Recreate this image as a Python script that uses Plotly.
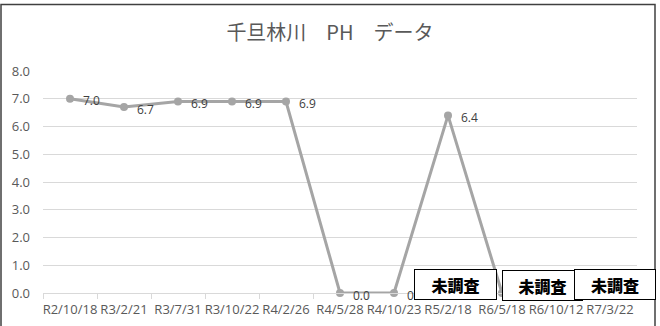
import plotly.graph_objects as go

categories = ["R2/10/18", "R3/2/21", "R3/7/31", "R3/10/22", "R4/2/26", "R4/5/28",
              "R4/10/23", "R5/2/18", "R6/5/18", "R6/10/12", "R7/3/22"]
ph_values = [7.0, 6.7, 6.9, 6.9, 6.9, 0.0, 0.0, 6.4, 0.0, None, None]
title_text = "千旦林川　PH　データ"
note_text = "未調査"
y_ticks = [0, 1, 2, 3, 4, 5, 6, 7, 8]

W, H = 660, 326
L, R, T, B = 43, 23, 71, 33
pw, ph = W - L - R, H - T - B

def px(x):
    return (x - L) / pw

def py(y):
    return (H - B - y) / ph

FONT = "Open Sans, Liberation Sans, sans-serif"

fig = go.Figure()
fig.add_trace(go.Scatter(
    x=categories, y=ph_values, mode="lines+markers",
    line=dict(color="#A5A5A5", width=3),
    marker=dict(color="#A5A5A5", size=8),
    cliponaxis=False, connectgaps=False, showlegend=False,
))

fig.update_layout(
    width=W, height=H,
    margin=dict(l=L, r=R, t=T, b=B, autoexpand=False),
    paper_bgcolor="white", plot_bgcolor="white",
    font=dict(family=FONT, color="#595959"),
    title=dict(text=title_text, x=0.5, xanchor="center", xref="container",
               y=1 - 33 / H, yanchor="middle", automargin=False,
               font=dict(family="Noto Sans CJK JP, sans-serif", size=20, color="#595959")),
    xaxis=dict(type="category", range=[-0.5, len(categories) - 0.5], automargin=False,
               showgrid=False, showline=True, linecolor="#D9D9D9", linewidth=1,
               ticks="outside", tickson="boundaries", ticklen=5, tickcolor="#D9D9D9",
               ticklabelstandoff=4,
               tickfont=dict(size=13, color="#595959"), tickangle=0, fixedrange=True),
    yaxis=dict(range=[0, 8], tickvals=y_ticks, tickformat=".1f", automargin=False,
               showgrid=True, gridcolor="#D9D9D9", gridwidth=1, zeroline=False,
               showline=False, ticks="", ticklabelstandoff=12,
               tickfont=dict(size=13, color="#595959"), fixedrange=True),
)

# data labels (right of each marker)
for c, v in zip(categories, ph_values):
    if v is None:
        continue
    fig.add_annotation(
        x=c, y=v, xref="x", yref="y", text=f"{v:.1f}", showarrow=False,
        xanchor="left", yanchor="middle", xshift=11, yshift=-2,
        font=dict(family=FONT, size=12, color="#404040"),
    )

# outer chart border
fig.add_shape(type="rect", xref="paper", yref="paper",
              x0=px(1), x1=px(655), y0=py(340), y1=py(4.5),
              line=dict(color="#404040", width=1.5), fillcolor="rgba(0,0,0,0)", layer="above")

# "未調査" boxes
boxes = [(414, 497, 269, 300), (502, 583, 270, 301), (574, 656, 269, 300)]
for x0, x1, y0, y1 in boxes:
    fig.add_annotation(
        xref="paper", yref="paper",
        x=px((x0 + x1) / 2), y=py((y0 + y1) / 2),
        xanchor="center", yanchor="middle",
        text=note_text, showarrow=False,
        width=(x1 - x0) - 4, height=(y1 - y0) - 4,
        borderpad=1, borderwidth=1, bordercolor="#000000", bgcolor="#FFFFFF",
        font=dict(family="Noto Sans CJK JP Black, Noto Sans CJK JP, sans-serif",
                  size=16, color="#000000", weight=900),
    )

fig.write_html("out.html")
